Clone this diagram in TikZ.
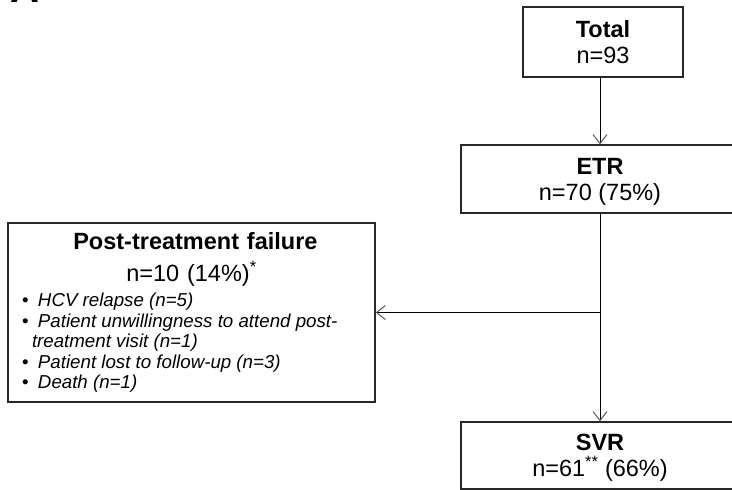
\documentclass[tikz,border=0pt]{standalone}
\usepackage{fontspec}
\setmainfont{Liberation Sans}
\usetikzlibrary{arrows.meta,positioning}
\definecolor{boxline}{RGB}{40,40,40}
\definecolor{tipgray}{RGB}{90,90,90}
\newcommand{\boxfont}{\fontsize{23.5}{26}\selectfont}
\newcommand{\listfont}{\fontsize{18.7}{20.5}\selectfont\itshape}
\newcommand{\bitem}[1]{\par\makebox[16pt][l]{\upshape\textbullet}#1}
\tikzset{
  % boxes of the flow
  stagebox/.style  = {draw=boxline, line width=1.3pt, align=center,
                      inner sep=0pt, font=\boxfont},
  % connectors
  flowline/.style  = {line width=1pt, draw=black},
  flowarrow/.style = {flowline,
    -{Straight Barb[length=9pt,width=14pt,line width=1pt,color=tipgray]}},
  % panel letter
  panellab/.style  = {anchor=base west, inner sep=0pt,
                      font=\fontsize{40}{40}\selectfont\bfseries},
}
\begin{document}
\begin{tikzpicture}[x=1pt,y=-1pt]
  \useasboundingbox (0,0) rectangle (732,490);
  \clip (0,0) rectangle (732,490);
  % panel letter, only its foot is in the frame
  \node[panellab] (panel) at (10,2.5) {A};
  % main column
  \node[stagebox, minimum width=160pt, minimum height=70pt] (total) at (603,42)
    {\textbf{Total}\\n=93};
  \node[stagebox, minimum width=278pt, minimum height=68pt, text depth=0pt]
    (etr) at (600,179) {\textbf{ETR}\\n=70 (75\%)};
  \node[stagebox, minimum width=278pt, minimum height=67pt, text depth=0pt]
    (svr) at (600,455.5) {\textbf{SVR}\\n=61\textsuperscript{**} (66\%)};
  % side box
  \node[stagebox, align=left, text width=339pt, inner xsep=14pt,
        minimum height=179pt] (failure) at (191.5,312.5)
    {\parindent=0pt\parskip=0pt
     \vspace*{6pt}
     {\centering\textbf{Post-treatment failure}\\n=10 (14\%)\textsuperscript{*}\par}
     \vspace{5pt}
     {\listfont\raggedright\spaceskip=0pt\xspaceskip=0pt
      \bitem{HCV relapse (n=5)}
      \bitem{Patient unwillingness to attend post-\newline
             \hspace*{10pt}treatment visit (n=1)}
      \bitem{Patient lost to follow-up (n=3)}
      \bitem{Death (n=1)}\par}};
  % connectors
  \draw[flowarrow] (total.south -| etr.north) -- (etr.north);
  \draw[flowarrow] (etr.south) -- (svr.north);
  \coordinate (split) at (etr.south |- failure.east);
  \draw[flowarrow] (split) -- (failure.east);
\end{tikzpicture}
\end{document}
